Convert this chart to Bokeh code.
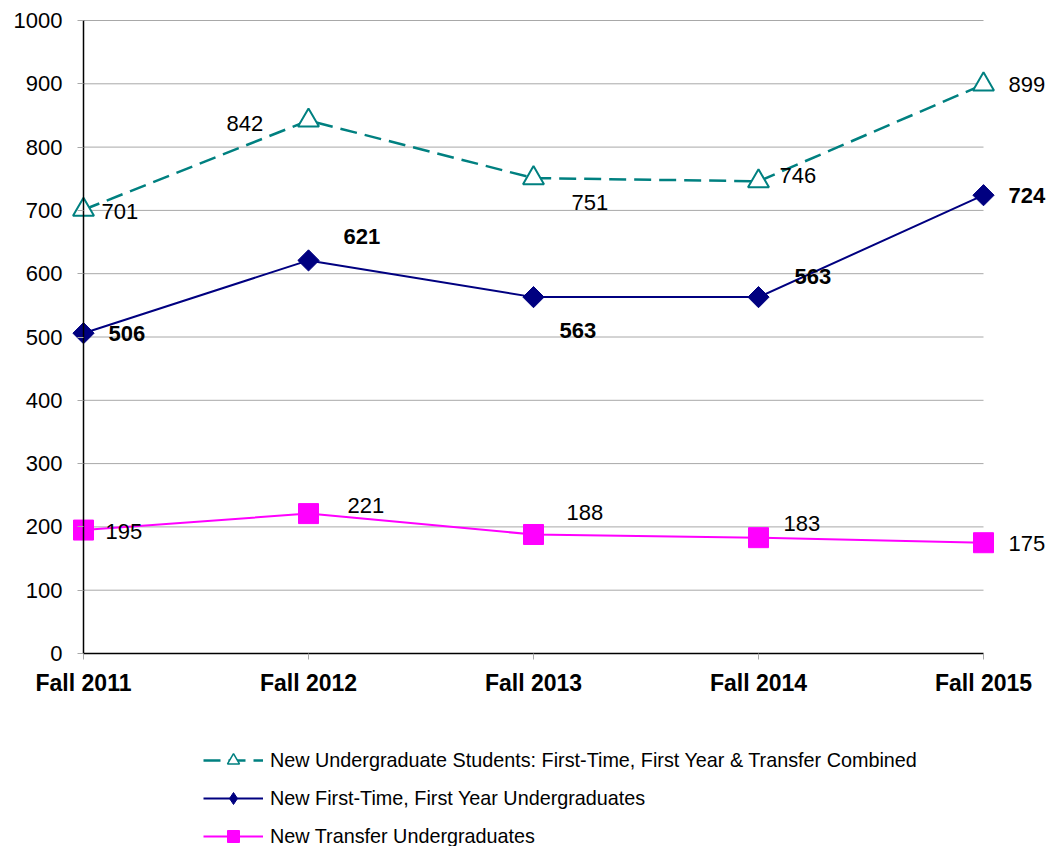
from bokeh.plotting import figure
from bokeh.models import (ColumnDataSource, Range1d, FixedTicker, LabelSet, Legend, LegendItem)
from bokeh.core.properties import value
from bokeh.embed import file_html
from bokeh.resources import INLINE
import math

categories = ["Fall 2011", "Fall 2012", "Fall 2013", "Fall 2014", "Fall 2015"]
combined = [701, 842, 751, 746, 899]
first_time = [506, 621, 563, 563, 724]
transfer = [195, 221, 188, 183, 175]
series_names = [
    "New Undergraduate Students: First-Time, First Year & Transfer Combined",
    "New First-Time, First Year Undergraduates",
    "New Transfer Undergraduates",
]
y_ticks = list(range(0, 1001, 100))

# label offsets (screen px; style only)
comb_dx = [18, -82, 38, 21, 25]
comb_dy = [-2, -3, -24, 6, 0]
ft_dx = [25, 35, 26, 36, 25]
ft_dy = [0, 24, -33, 21, 0]
tr_dx = [22, 39, 33, 25, 25]
tr_dy = [-1, 8, 22, 14, -1]

FONT = "Liberation Sans"
TEAL = "#008080"
NAVY = "#000080"
MAG = "#FF00FF"
GRID = "#a8a8a8"
DASH = "17 8"

W, H = 1051, 846
# frame covers the whole canvas; category 0 sits at px 83, step 225 px; value 0 at py 653, 0.633 px/unit
X0, DX = 83.0, 225.0
Y0, DY = 653.0, 0.633

xs = list(range(len(categories)))
xmax = len(categories) - 1

p = figure(width=W, height=H, output_backend="svg", toolbar_location=None,
           x_range=Range1d(-X0 / DX, (W - X0) / DX),
           y_range=Range1d((Y0 - H) / DY, Y0 / DY),
           min_border=0)
p.outline_line_color = None
p.background_fill_color = "white"
p.border_fill_color = "white"

# horizontal gridlines limited to the category span
p.xgrid.grid_line_color = None
p.ygrid.grid_line_color = None
p.segment(x0=[0] * len(y_ticks), y0=y_ticks, x1=[xmax] * len(y_ticks), y1=y_ticks,
          line_color=GRID, line_width=1)

# axes at fixed locations inside the frame
p.xaxis.fixed_location = 0
p.yaxis.fixed_location = 0
p.xaxis.bounds = (0, xmax)
p.yaxis.bounds = (0, 1000)
p.xaxis.ticker = FixedTicker(ticks=xs)
p.xaxis.major_label_overrides = {i: c for i, c in enumerate(categories)}
p.yaxis.ticker = FixedTicker(ticks=y_ticks)
for ax in (p.xaxis, p.yaxis):
    ax.axis_line_color = "black"
    ax.axis_line_width = 1.5
    ax.major_tick_line_color = GRID
    ax.major_tick_in = 0
    ax.major_tick_out = 6
    ax.minor_tick_line_color = None
    ax.major_label_text_font = FONT
    ax.major_label_text_color = "black"
p.yaxis.major_label_text_font_size = "22px"
p.xaxis.major_label_text_font_size = "23px"
p.xaxis.major_label_text_font_style = "bold"
p.xaxis.major_label_standoff = 10
p.yaxis.major_label_standoff = 15

src_c = ColumnDataSource(dict(x=xs, y=combined, t=[str(v) for v in combined], dx=comb_dx, dy=comb_dy))
src_f = ColumnDataSource(dict(x=xs, y=first_time, t=[str(v) for v in first_time], dx=ft_dx, dy=ft_dy))
src_t = ColumnDataSource(dict(x=xs, y=transfer, t=[str(v) for v in transfer], dx=tr_dx, dy=tr_dy))

p.line("x", "y", source=src_t, color=MAG, line_width=2)
p.scatter("x", "y", source=src_t, marker="square", size=20, color=MAG)
p.line("x", "y", source=src_f, color=NAVY, line_width=2)
p.scatter("x", "y", source=src_f, marker="square", angle=math.pi / 4, size=15, color=NAVY)
p.line("x", "y", source=src_c, color=TEAL, line_width=2.5, line_dash=DASH)
p.scatter("x", "y", source=src_c, marker="triangle", size=21, fill_color="white",
          line_color=TEAL, line_width=2)

for src, bold in ((src_c, "normal"), (src_f, "bold"), (src_t, "normal")):
    p.add_layout(LabelSet(x="x", y="y", text="t", source=src, x_offset="dx", y_offset="dy",
                          text_font=value(FONT), text_font_size=value("22px"),
                          text_font_style=value(bold),
                          text_align="left", text_baseline="middle", text_color="black"))

# legend-only renderers (a single undrawable point so the legend has a glyph to show)
nan = float("nan")
def ghost():
    return ColumnDataSource(dict(x=[nan], y=[nan]))
lc = p.line("x", "y", source=ghost(), color=TEAL, line_width=2.5, line_dash=DASH)
mc = p.scatter("x", "y", source=ghost(), marker="triangle", size=12,
               fill_color="white", line_color=TEAL, line_width=1.5)
lf = p.line("x", "y", source=ghost(), color=NAVY, line_width=2)
mf = p.scatter("x", "y", source=ghost(), marker="diamond", size=12, color=NAVY)
lt = p.line("x", "y", source=ghost(), color=MAG, line_width=2)
mt = p.scatter("x", "y", source=ghost(), marker="square", size=12, color=MAG)

legend = Legend(items=[
    LegendItem(label=series_names[0], renderers=[lc, mc]),
    LegendItem(label=series_names[1], renderers=[lf, mf]),
    LegendItem(label=series_names[2], renderers=[lt, mt]),
], location=(203, -5), orientation="vertical", glyph_width=60, glyph_height=30,
    label_height=20, spacing=8, label_standoff=7, padding=0, margin=0,
    border_line_color=None, background_fill_alpha=0,
    label_text_font=FONT, label_text_font_size="19.8px", label_text_color="black")
p.add_layout(legend, "center")

open("out.html", "w").write(file_html(p, INLINE))
